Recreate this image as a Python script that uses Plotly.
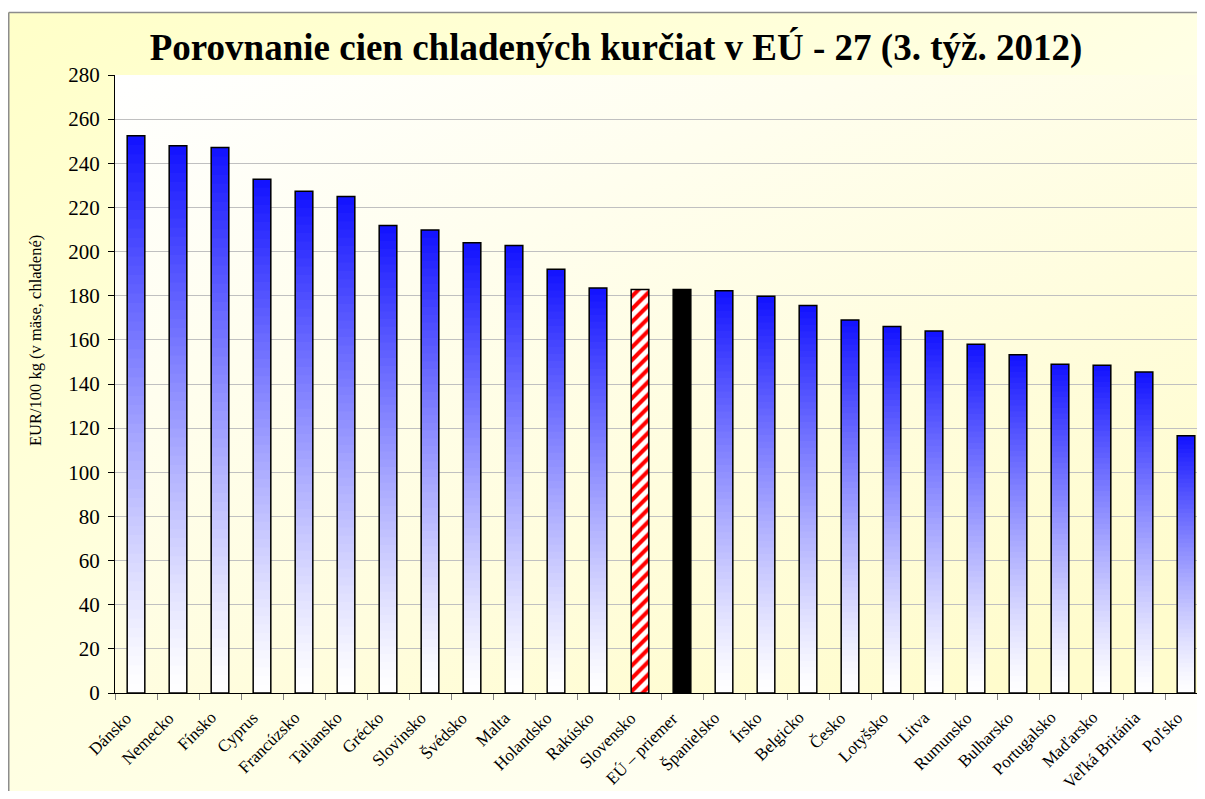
import base64
import plotly.graph_objects as go

# ---------------- data ----------------
categories = ["Dánsko", "Nemecko", "Fínsko", "Cyprus", "Francúzsko", "Taliansko", "Grécko",
              "Slovinsko", "Švédsko", "Malta", "Holandsko", "Rakúsko", "Slovensko",
              "EÚ – priemer", "Španielsko", "Írsko", "Belgicko", "Česko", "Lotyšsko", "Litva",
              "Rumunsko", "Bulharsko", "Portugalsko", "Maďarsko", "Veľká Británia", "Poľsko"]
values = [252.5, 248.0, 247.2, 232.8, 227.3, 225.0, 211.8, 209.8, 204.0, 202.8, 192.0,
          183.5, 182.8, 182.8, 182.2, 179.8, 175.6, 169.0, 166.0, 164.0, 158.0, 153.2,
          149.0, 148.5, 145.4, 116.5]
slovakia = "Slovensko"
eu_avg = "EÚ – priemer"
y_ticks = list(range(0, 281, 20))

title_text = "Porovnanie cien chladených kurčiat v EÚ - 27 (3. týž. 2012)"
y_title = "EUR/100 kg (v mäse, chladené)"

# ---------------- geometry (figure pixels; page has an 8px body margin) ----------------
OFF = 8
W, H = 1189, 783
L, R, T, B = 107, 0, 67, 98
PW, PH = W - L - R, H - T - B
BAND = 42.0
X_END = -0.5 + PW / BAND


def px_to_paper_x(px):
    return (px - L) / PW


def px_to_paper_y(py):
    return (H - B - py) / PH


def svg_grad(c0, c1, x1, y1, x2, y2):
    svg = ('<svg xmlns="http://www.w3.org/2000/svg" width="100" height="100" '
           'viewBox="0 0 100 100" preserveAspectRatio="none"><defs>'
           f'<linearGradient id="g" x1="{x1}" y1="{y1}" x2="{x2}" y2="{y2}">'
           f'<stop offset="0" stop-color="{c0}"/><stop offset="1" stop-color="{c1}"/>'
           '</linearGradient></defs><rect width="100" height="100" fill="url(#g)"/></svg>')
    return "data:image/svg+xml;base64," + base64.b64encode(svg.encode()).decode()


FONT = "Liberation Serif, Times New Roman, serif"
BAR_W = 0.42

fig = go.Figure()

# gradient bars (nested overlays, top blue -> bottom white)
N = 60
top_rgb = (18, 18, 255)
grad_vals = [None if c in (slovakia, eu_avg) else v for c, v in zip(categories, values)]
for k in range(N):
    frac_top = 1 - k / N
    t = 1 - (k + 0.5) / N
    s = t ** 1.25
    col = tuple(round(255 + (tc - 255) * s) for tc in top_rgb)
    fig.add_trace(go.Bar(
        x=categories,
        y=[None if v is None else v * frac_top for v in grad_vals],
        width=BAR_W,
        marker=dict(color="rgb(%d,%d,%d)" % col, line=dict(width=0)),
        hoverinfo="skip", showlegend=False,
    ))

# Slovensko – striped
fig.add_trace(go.Bar(
    x=categories,
    y=[v if c == slovakia else None for c, v in zip(categories, values)],
    width=BAR_W,
    marker=dict(color="white", line=dict(width=0),
                pattern=dict(shape="/", fgcolor="#FF0000", bgcolor="white",
                             size=9, solidity=0.45, fillmode="replace")),
    showlegend=False,
))
# EU average – black
fig.add_trace(go.Bar(
    x=categories,
    y=[v if c == eu_avg else None for c, v in zip(categories, values)],
    width=BAR_W,
    marker=dict(color="black", line=dict(width=0)),
    showlegend=False,
))
# outlines
fig.add_trace(go.Bar(
    x=categories, y=values, width=BAR_W,
    marker=dict(color="rgba(0,0,0,0)", line=dict(color="black", width=1.5)),
    showlegend=False, hovertemplate="%{x}: %{y}<extra></extra>",
))

# category labels as rotated annotations (end of text just left of the bar, below axis)
label_annotations = [
    dict(text=c, x=c, xref="x", y=0, yref="y", textangle=-45, showarrow=False,
         xanchor="right", yanchor="top", xshift=1, yshift=-14, borderpad=0,
         font=dict(family=FONT, size=17, color="black"))
    for c in categories
]

fig.update_layout(
    width=W, height=H,
    margin=dict(l=L, r=R, t=T, b=B, pad=0),
    barmode="overlay",
    paper_bgcolor="white",
    plot_bgcolor="rgba(0,0,0,0)",
    font=dict(family=FONT, color="black"),
    title=dict(text="<b>" + title_text + "</b>", xref="container", x=(616 - OFF) / W,
               xanchor="center", yref="container", y=(H - (47 - OFF)) / H, yanchor="middle",
               font=dict(family=FONT, size=37, color="black")),
    xaxis=dict(type="category", range=[-0.5, X_END], showticklabels=False,
               tickson="boundaries", ticks="outside", ticklen=6, tickcolor="#808080",
               showline=True, linecolor="black", linewidth=1, showgrid=False),
    yaxis=dict(range=[0, 280], tickvals=y_ticks, ticks="outside", ticklen=6,
               tickcolor="black", showline=True, linecolor="black", linewidth=1,
               showgrid=True, gridcolor="#C0C0C0", gridwidth=1, zeroline=False,
               ticklabelstandoff=4,
               tickfont=dict(family=FONT, size=21, color="black")),
    images=[
        dict(source=svg_grad("#FFFFC8", "#FFFFFF", 0, 0, 1, 1), xref="paper", yref="paper",
             x=px_to_paper_x(0), y=px_to_paper_y(12 - OFF), sizex=(W + 20) / PW,
             sizey=(H + 20) / PH, xanchor="left", yanchor="top",
             sizing="stretch", layer="below"),
        dict(source=svg_grad("#FFFFFF", "#FFFCCC", 0, 0, 0.8, 1), xref="paper", yref="paper",
             x=0, y=1, sizex=1, sizey=1, xanchor="left", yanchor="top",
             sizing="stretch", layer="below"),
    ],
    shapes=[
        dict(type="line", xref="paper", yref="paper",
             x0=px_to_paper_x(0.75), x1=px_to_paper_x(W + 5),
             y0=px_to_paper_y(12 - OFF + 0.5), y1=px_to_paper_y(12 - OFF + 0.5),
             line=dict(color="#8C8C8C", width=1.5), layer="below"),
        dict(type="line", xref="paper", yref="paper",
             x0=px_to_paper_x(0.75), x1=px_to_paper_x(0.75),
             y0=px_to_paper_y(H + 5), y1=px_to_paper_y(12 - OFF + 0.5),
             line=dict(color="#8C8C8C", width=1.5), layer="below"),
    ],
    annotations=[dict(text=y_title, textangle=-90, xref="paper", yref="paper",
                      x=px_to_paper_x(35 - OFF), y=px_to_paper_y(341 - OFF), showarrow=False,
                      xanchor="center", yanchor="middle",
                      font=dict(family=FONT, size=16.5, color="black"))] + label_annotations,
)

fig.write_html("out.html")
